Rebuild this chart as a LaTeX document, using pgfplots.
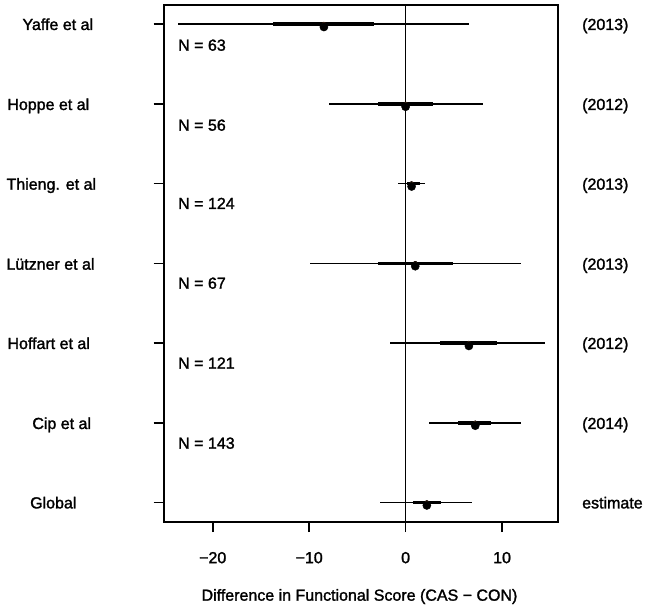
\documentclass[border=0pt]{standalone}
\usepackage{pgfplots}
\usepackage{pgfplotstable}
\pgfplotsset{compat=1.18}
\usepackage{fontspec}
\setmainfont{Liberation Sans}[UprightFeatures={FakeBold=1.6}]
\pgfplotstableread{
row lo hi tlo thi est
7 -23.56 6.56 -13.8 -3.25 -8.47
6 -7.98 7.98 -2.84 2.86 0.0
5 -0.83 2.0 0.1 1.5 0.62
4 -9.92 12.0 -2.84 4.87 1.0
3 -1.63 14.5 3.55 9.43 6.56
2 2.45 12.0 5.45 8.9 7.22
1 -2.66 6.84 0.72 3.62 2.2
}\data
\begin{document}
\begin{tikzpicture}[x=1pt,y=1pt]
\fontsize{16}{19}\selectfont
\path (0,0) rectangle (650,607);
\begin{axis}[
  at={(164pt,85.3pt)}, anchor=south west,
  scale only axis, width=394pt, height=516.7pt,
  xmin=-25.05, xmax=15.8, ymin=0.76, ymax=7.24,
  axis line style={line width=1.8pt},
  xtick={-20,-10,0,10},
  xticklabels={−20,−10,0,10},
  ytick={1,2,3,4,5,6,7},
  yticklabels={},
  tick align=outside, xtick pos=bottom, ytick pos=left,
  major tick length=10.5pt,
  tick style={line width=1.6pt, black},
  xticklabel style={font=\fontsize{16}{19}\selectfont, anchor=base, yshift=-31pt},
  clip=false,
]
\addplot[black, line width=1.6pt] coordinates {(0,0.76) (0,7.24)};
\addplot+[black, only marks, mark=none,
  error bars/.cd, x dir=both, x explicit, error mark=none,
  error bar style={line width=1.5pt, black}]
  table[x=est, y=row, x error plus expr=\thisrow{hi}-\thisrow{est}, x error minus expr=\thisrow{est}-\thisrow{lo}] {\data};
\addplot+[black, only marks, mark=none,
  error bars/.cd, x dir=both, x explicit, error mark=none,
  error bar style={line width=3.6pt, black}]
  table[x=est, y=row, x error plus expr=\thisrow{thi}-\thisrow{est}, x error minus expr=\thisrow{est}-\thisrow{tlo}] {\data};
\addplot[black, only marks, mark=*, mark size=4.1pt]
  table[x=est, y expr=\thisrow{row}-0.036] {\data};
\end{axis}
% N labels
\foreach \yy/\t in {45/63, 125/56, 203.3/124, 283/67, 363/121, 443/143}{
  \node[anchor=base west, inner sep=0] at (178, 607-\yy-5.7) {N = \t};
}
% study labels
\node[anchor=base, inner sep=0] at (57.8, 607-24.3-5.7) {Yaffe et al};
\node[anchor=base, inner sep=0] at (48.3, 607-104.3-5.7) {Hoppe et al};
\node[anchor=base, inner sep=0] at (51.3, 607-184-5.7) {Thieng. et al};
\node[anchor=base, inner sep=0] at (50.5, 607-264-5.7) {Lützner et al};
\node[anchor=base, inner sep=0] at (48.7, 607-343.3-5.7) {Hoffart et al};
\node[anchor=base, inner sep=0] at (61.7, 607-423.3-5.7) {Cip et al};
\node[anchor=base, inner sep=0] at (53.3, 607-502.7-5.7) {Global};
% years
\node[anchor=base west, inner sep=0] at (582, 607-24.3-5.7) {(2013)};
\node[anchor=base west, inner sep=0] at (582, 607-104.3-5.7) {(2012)};
\node[anchor=base west, inner sep=0] at (582, 607-184-5.7) {(2013)};
\node[anchor=base west, inner sep=0] at (582, 607-264-5.7) {(2013)};
\node[anchor=base west, inner sep=0] at (582, 607-343.3-5.7) {(2012)};
\node[anchor=base west, inner sep=0] at (582, 607-423.3-5.7) {(2014)};
\node[anchor=base west, inner sep=0] at (582, 607-502.7-5.7) {estimate};
% x label
\node[anchor=base, inner sep=0] at (359.5, 607-595-5.7) {Difference in Functional Score (CAS − CON)};
\end{tikzpicture}
\end{document}
